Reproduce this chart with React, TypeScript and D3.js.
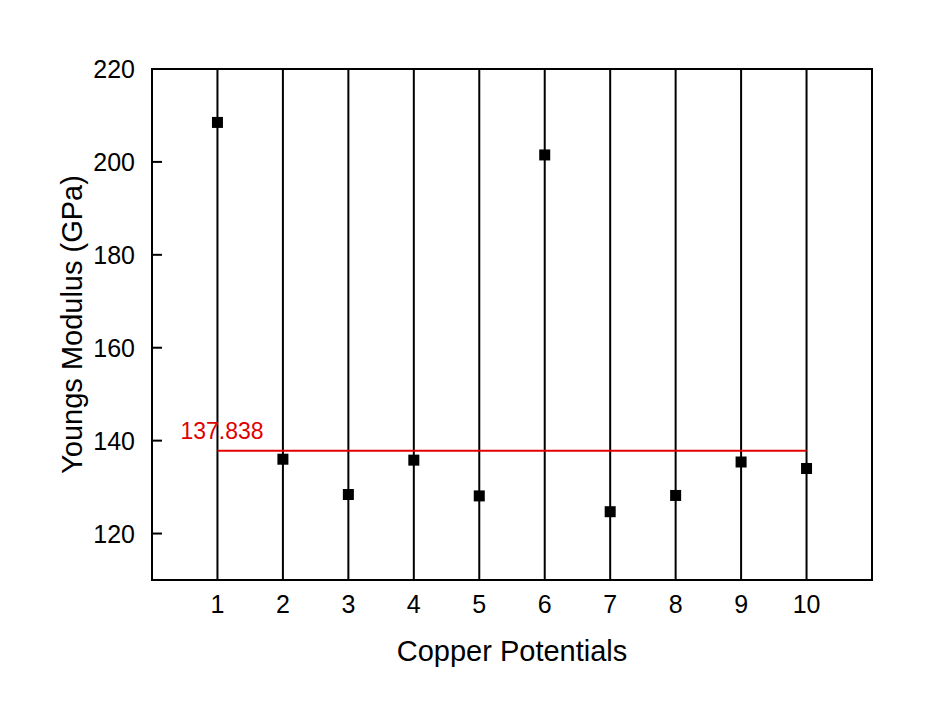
import React from "react";
import * as d3 from "d3";

const categories = [1, 2, 3, 4, 5, 6, 7, 8, 9, 10];
const values = [208.5, 136.0, 128.4, 135.8, 128.1, 201.5, 124.7, 128.2, 135.4, 134.0];
const yTicks = [120, 140, 160, 180, 200, 220];
const meanValue = 137.838;
const meanLabel = "137.838";

const W = 943, H = 718;
const margin = { left: 152, right: 943 - 872, top: 69, bottom: 718 - 580 };

export default function App() {
  const x = d3.scaleLinear().domain([0, 11]).range([margin.left, W - margin.right]);
  const y = d3.scaleLinear().domain([110, 220]).range([H - margin.bottom, margin.top]);
  const font = "Arial, 'Liberation Sans', sans-serif";
  const ms = 11;
  return (
    <svg width={W} height={H} style={{ position: "absolute", left: 0, top: 0, background: "#fff" }}>
      {/* vertical error lines */}
      {categories.map((c) => (
        <line key={"v" + c} x1={x(c)} x2={x(c)} y1={y(220)} y2={y(110)} stroke="#000" strokeWidth={2} />
      ))}
      {/* mean line */}
      <line x1={x(1)} x2={x(10)} y1={y(meanValue)} y2={y(meanValue)} stroke="#e00000" strokeWidth={2} />
      <text x={x(1) - 37} y={y(meanValue) - 12} fill="#e00000" fontFamily={font} fontSize={23}>{meanLabel}</text>
      {/* markers */}
      {categories.map((c, i) => (
        <rect key={"m" + c} x={x(c) - ms / 2} y={y(values[i]) - ms / 2} width={ms} height={ms} fill="#000" />
      ))}
      {/* frame */}
      <rect x={margin.left} y={margin.top} width={W - margin.right - margin.left} height={H - margin.bottom - margin.top}
        fill="none" stroke="#000" strokeWidth={2} />
      {/* y ticks */}
      {yTicks.map((t) => (
        <g key={"yt" + t}>
          <line x1={margin.left} x2={margin.left + 10} y1={y(t)} y2={y(t)} stroke="#000" strokeWidth={2} />
          <text x={margin.left - 17} y={y(t)} dy="0.36em" textAnchor="end" fontFamily={font} fontSize={25}>{t}</text>
        </g>
      ))}
      {/* x tick labels */}
      {categories.map((c) => (
        <text key={"xt" + c} x={x(c)} y={613} textAnchor="middle" fontFamily={font} fontSize={25}>{c}</text>
      ))}
      <text x={(margin.left + W - margin.right) / 2} y={661} textAnchor="middle" fontFamily={font} fontSize={29}>Copper Potentials</text>
      <text transform={`translate(82, ${(margin.top + H - margin.bottom) / 2}) rotate(-90)`} textAnchor="middle" fontFamily={font} fontSize={29}>Youngs Modulus (GPa)</text>
    </svg>
  );
}
